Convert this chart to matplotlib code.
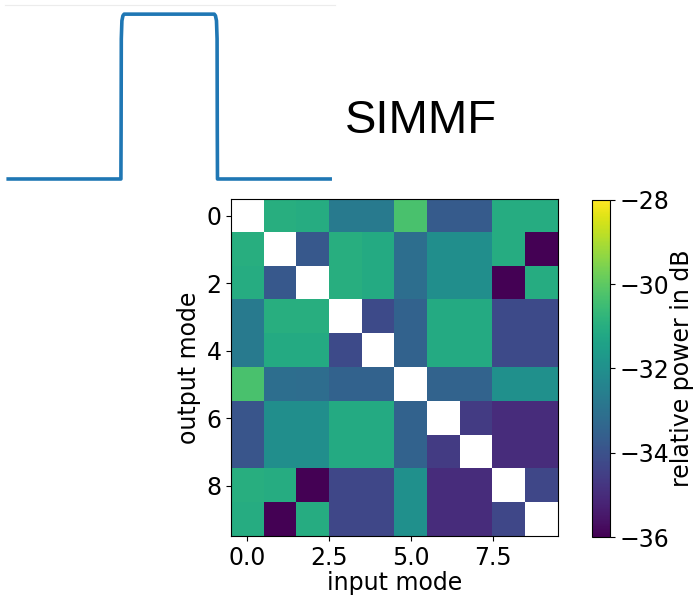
import matplotlib
matplotlib.use("Agg")
import matplotlib.pyplot as plt
import numpy as np

nan = np.nan

# perfil de índice (degrau) mostrado no canto superior esquerdo
perfil_r = [-40, -12.0, -11.95, -11.9, -11.75, -11.5, -11.2, 11.2, 11.5, 11.75, 11.9, 11.95, 12.0, 40]
perfil_n = [0.0, 0.0, 0.3, 0.85, 0.96, 0.99, 1.0, 1.0, 0.99, 0.96, 0.85, 0.3, 0.0, 0.0]

# matriz de acoplamento entre modos (dB), diagonal em branco
potencia = [
    [nan, -31.0, -31.05, -32.7, -32.75, -30.3, -33.7, -33.7, -31.05, -31.05],
    [-31.0, nan, -33.8, -31.0, -31.1, -33.1, -32.05, -32.05, -31.05, -36.0],
    [-31.05, -33.8, nan, -31.0, -31.1, -33.1, -32.05, -32.05, -36.0, -31.05],
    [-32.7, -31.0, -31.0, nan, -34.2, -33.5, -31.1, -31.1, -34.2, -34.2],
    [-32.75, -31.1, -31.1, -34.2, nan, -33.5, -31.1, -31.1, -34.2, -34.2],
    [-30.3, -33.1, -33.15, -33.5, -33.5, nan, -33.45, -33.45, -32.0, -32.0],
    [-33.9, -32.05, -32.05, -31.1, -31.1, -33.5, nan, -34.6, -35.0, -35.0],
    [-33.9, -32.05, -32.05, -31.1, -31.1, -33.5, -34.6, nan, -35.0, -35.0],
    [-31.0, -31.05, -36.0, -34.3, -34.3, -32.0, -35.0, -35.0, nan, -34.3],
    [-31.05, -36.0, -31.05, -34.3, -34.3, -32.0, -35.0, -35.0, -34.3, nan],
]
vmin, vmax = -36, -28

fig = plt.figure(figsize=(6.94, 5.97), dpi=100)

# inset com o perfil
ax_p = fig.add_axes([0.0072, 0.685, 0.4755, 0.3065])
ax_p.plot(perfil_r, perfil_n, color="#1f77b4", linewidth=2.6)
ax_p.set_xlim(-40.8, 41.2)
ax_p.set_ylim(-0.055, 1.055)
ax_p.set_xticks([])
ax_p.set_yticks([])
for lado in ["left", "right", "bottom"]:
    ax_p.spines[lado].set_visible(False)
ax_p.spines["top"].set_color("#ececec")

fig.text(0.607, 0.797, "SIMMF", fontsize=34, family="Liberation Sans",
         ha="center", va="center")

# mapa de calor
ax = fig.add_axes([0.333, 0.102, 0.471, 0.5647])
im = ax.imshow(np.array(potencia), cmap="viridis", vmin=vmin, vmax=vmax,
               aspect="auto", interpolation="nearest")
ax.set_xticks([0.0, 2.5, 5.0, 7.5])
ax.set_xticklabels(["0.0", "2.5", "5.0", "7.5"])
ax.set_yticks([0, 2, 4, 6, 8])
ax.tick_params(labelsize=17)
ax.set_xlabel("input mode", fontsize=17, labelpad=0.5)
ax.set_ylabel("output mode", fontsize=17)

cax = fig.add_axes([0.853, 0.1005, 0.026, 0.5645])
cb = fig.colorbar(im, cax=cax)
cb.set_ticks([-36, -34, -32, -30, -28])
cb.ax.tick_params(labelsize=17)
cb.set_label("relative power in dB", fontsize=17, labelpad=0.5)

fig.savefig("out.png", dpi=100)
